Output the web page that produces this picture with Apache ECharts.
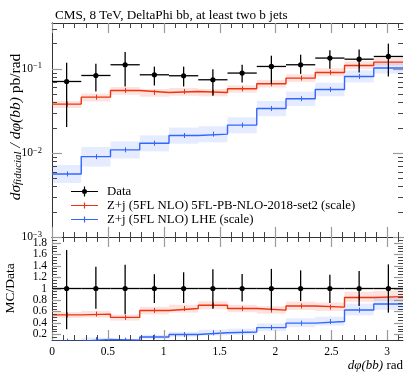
<!DOCTYPE html>
<html><head><meta charset="utf-8">
<script src="https://cdn.jsdelivr.net/npm/echarts@6/dist/echarts.min.js"></script>
<style>html,body{margin:0;padding:0;background:#fff}#c{width:417px;height:376px}</style>
</head><body><div id="c"></div>
<script>
// ---- data ----
const binEdges = [0, 0.2618, 0.5236, 0.7854, 1.0472, 1.3090, 1.5708, 1.8326, 2.0944, 2.3562, 2.6180, 2.8798, 3.1416];
const dataVal = [0.0706, 0.0832, 0.1116, 0.0848, 0.0826, 0.0740, 0.0889, 0.1065, 0.1116, 0.1340, 0.1300, 0.1400];
const dataHi  = [0.1180, 0.1150, 0.1580, 0.1060, 0.1060, 0.0990, 0.1116, 0.1430, 0.1470, 0.1660, 0.1700, 0.1990];
const dataLo  = [0.0203, 0.0537, 0.0616, 0.0633, 0.0616, 0.0477, 0.0687, 0.0660, 0.0870, 0.1000, 0.0904, 0.0810];
const redVal  = [0.0380, 0.0460, 0.0552, 0.0523, 0.0537, 0.0523, 0.0578, 0.0663, 0.0775, 0.0904, 0.1095, 0.1200];
const redUp   = [0.09, 0.10, 0.10, 0.10, 0.10, 0.10, 0.10, 0.11, 0.11, 0.12, 0.12, 0.12];
const redDn   = [0.10, 0.11, 0.11, 0.11, 0.11, 0.10, 0.10, 0.10, 0.10, 0.10, 0.09, 0.09];
const blueVal = [0.00562, 0.00903, 0.01086, 0.01303, 0.0161, 0.0167, 0.0214, 0.0337, 0.0440, 0.0568, 0.0810, 0.1020];
const blueUp  = [0.28, 0.30, 0.26, 0.24, 0.24, 0.24, 0.24, 0.23, 0.22, 0.20, 0.18, 0.16];
const blueDn  = [0.22, 0.24, 0.21, 0.20, 0.20, 0.20, 0.20, 0.19, 0.18, 0.17, 0.15, 0.14];
const xMajorTicks = [0, 0.5, 1, 1.5, 2, 2.5, 3];
const xMinorTicks = [0.1,0.2,0.3,0.4,0.6,0.7,0.8,0.9,1.1,1.2,1.3,1.4,1.6,1.7,1.8,1.9,2.1,2.2,2.3,2.4,2.6,2.7,2.8,2.9,3.1];
const logMajorTicks = [0.001, 0.01, 0.1];
const logMinorTicks = [0.002,0.003,0.004,0.005,0.006,0.007,0.008,0.009,0.02,0.03,0.04,0.05,0.06,0.07,0.08,0.09,0.2,0.3];
const ratioMajorTicks = [0.2,0.4,0.6,0.8,1.0,1.2,1.4,1.6,1.8];
const ratioMinorTicks = [0.15,0.25,0.3,0.35,0.45,0.5,0.55,0.65,0.7,0.75,0.85,0.9,0.95,1.05,1.1,1.15,1.25,1.3,1.35,1.45,1.5,1.55,1.65,1.7,1.75,1.85];

const titleText = 'CMS, 8 TeV, DeltaPhi bb, at least two b jets';
const nameData = 'Data';
const nameRed = 'Z+j (5FL NLO) 5FL-PB-NLO-2018-set2 (scale)';
const nameBlue = 'Z+j (5FL NLO) LHE (scale)';

// ---- styles ----
const FONT = 'Liberation Serif';
const RED = '#EE3311', BLUE = '#3366FF';
const RED_BAND = 'rgba(238,51,17,0.14)', BLUE_BAND = 'rgba(51,102,255,0.12)';
const nb = dataVal.length;
const centers = [];
for (let i = 0; i < nb; i++) centers.push((binEdges[i] + binEdges[i + 1]) / 2);

function stepData(vals) {
  const d = [];
  for (let i = 0; i < vals.length; i++) d.push([binEdges[i], vals[i]]);
  d.push([binEdges[vals.length], vals[vals.length - 1]]);
  return d;
}
function bandData(vals, up, dn, denom) {
  return vals.map((v, i) => { const q = denom ? denom[i] : 1; return [binEdges[i], binEdges[i + 1], v * (1 - dn[i]) / q, v * (1 + up[i]) / q]; });
}
function bandSeries(xi, yi, data, fill) {
  return { type: 'custom', xAxisIndex: xi, yAxisIndex: yi, silent: true, clip: true, z: 1, data: data,
    encode: { x: [0, 1], y: [2, 3] },
    renderItem(params, api) {
      const p0 = api.coord([api.value(0), api.value(3)]);
      const p1 = api.coord([api.value(1), api.value(2)]);
      return { type: 'rect', shape: { x: p0[0], y: p0[1], width: p1[0] - p0[0], height: p1[1] - p0[1] }, style: { fill: fill } };
    } };
}
function stepSeries(name, xi, yi, vals, color) {
  return { type: 'line', name: name, xAxisIndex: xi, yAxisIndex: yi, step: 'end', data: stepData(vals), symbol: 'none',
    z: 3, clip: true, lineStyle: { color: color, width: 1.4 }, itemStyle: { color: color } };
}
function mcTickSeries(xi, yi, vals, color) {
  return { type: 'custom', xAxisIndex: xi, yAxisIndex: yi, silent: true, clip: true, z: 3,
    data: vals.map((v, i) => [centers[i], v]), encode: { x: 0, y: 1 },
    renderItem(params, api) {
      const p = api.coord([api.value(0), api.value(1)]);
      const x = Math.round(p[0]) + 0.5;
      return { type: 'line', shape: { x1: x, y1: p[1] - 2.5, x2: x, y2: p[1] + 2.5 }, style: { stroke: color, lineWidth: 1 } };
    } };
}
function dataSeries(name, xi, yi, vals, lo, hi) {
  return { type: 'custom', name: name, xAxisIndex: xi, yAxisIndex: yi, clip: true, z: 5,
    itemStyle: { color: '#000' },
    data: vals.map((v, i) => [binEdges[i], binEdges[i + 1], centers[i], v, lo[i], hi[i]]),
    encode: { x: [0, 1, 2], y: [3, 4, 5] },
    renderItem(params, api) {
      const a = api.coord([api.value(0), api.value(3)]);
      const b = api.coord([api.value(1), api.value(3)]);
      const c = api.coord([api.value(2), api.value(3)]);
      const l = api.coord([api.value(2), api.value(4)]);
      const h = api.coord([api.value(2), api.value(5)]);
      const st = { stroke: '#000', lineWidth: 1.3 };
      return { type: 'group', children: [
        { type: 'line', shape: { x1: a[0], y1: a[1], x2: b[0], y2: b[1] }, style: st },
        { type: 'line', shape: { x1: c[0], y1: l[1], x2: c[0], y2: h[1] }, style: st },
        { type: 'circle', shape: { cx: c[0], cy: c[1], r: 2.6 }, style: { fill: '#000' } }
      ] };
    } };
}
function frameTicks(xi, yi, yMajor, yMinor, yRef, yMajLen) {
  return { type: 'custom', xAxisIndex: xi, yAxisIndex: yi, silent: true, clip: false, z: 20,
    data: [[1, yRef]], encode: { x: 0, y: 1 },
    renderItem(params, api) {
      const cs = params.coordSys;
      const L = cs.x, R = cs.x + cs.width, T = cs.y, B = cs.y + cs.height;
      const maj = { stroke: '#9a9a9a', lineWidth: 1.2 }, min = { stroke: '#444', lineWidth: 1 };
      const ch = [];
      const ln = (x1, y1, x2, y2, s) => ch.push({ type: 'line', shape: { x1, y1, x2, y2 }, style: s });
      xMajorTicks.forEach(v => { const x = Math.round(api.coord([v, yRef])[0]) + 0.5; ln(x, B, x, B - 10, maj); ln(x, T, x, T + 10, maj); });
      xMinorTicks.forEach(v => { const x = Math.round(api.coord([v, yRef])[0]) + 0.5; ln(x, B, x, B - 5, min); ln(x, T, x, T + 5, min); });
      yMajor.forEach(v => { const y = Math.round(api.coord([1, v])[1]) + 0.5; ln(L, y, L + yMajLen, y, maj); ln(R, y, R - yMajLen, y, maj); });
      yMinor.forEach(v => { const y = Math.round(api.coord([1, v])[1]) + 0.5; ln(L, y, L + 5, y, min); ln(R, y, R - 5, y, min); });
      return { type: 'group', children: ch };
    } };
}

const ratio = a => a.map((v, i) => v / dataVal[i]);
const axLine = { show: true, lineStyle: { color: '#333', width: 1 } };
const xBase = { type: 'value', min: 0, max: 3.1416, interval: 0.5, axisLine: axLine, axisTick: { show: false }, splitLine: { show: false }, axisLabel: { show: false } };
const onHalf = v => Math.abs(v * 2 - Math.round(v * 2)) < 1e-6;
const logLabel = v => { const l = Math.log10(v), e = Math.round(l); if (Math.abs(l - e) > 1e-6) return ''; return '{b|10}{s|' + (e < 0 ? '\u2212' + (-e) : e) + '}'; };

const dataIcon = 'path://M0,4.4H27V5.6H0Z M12.9,0H14.1V10H12.9Z M16,5A2.5,2.5,0,1,1,11,5A2.5,2.5,0,1,1,16,5Z';
const mcIcon = 'path://M0,0h0.01v0.01h-0.01Z M0,9.99h0.01v0.01h-0.01Z M0,4.4H27V5.6H0Z M12.9,2H14.1V8H12.9Z';

const option = {
  animation: false,
  backgroundColor: '#fff',
  textStyle: { fontFamily: FONT },
  title: { text: titleText, left: 50, top: 4, textStyle: { fontFamily: FONT, fontSize: 13.2, fontWeight: 'normal', color: '#000' } },
  legend: { orient: 'vertical', left: 66, top: 180, itemWidth: 27, itemHeight: 10, itemGap: 1, selectedMode: false,
    textStyle: { fontFamily: FONT, fontSize: 12.8, color: '#000', padding: [0, 0, 0, 4] },
    data: [{ name: nameData, icon: dataIcon, itemStyle: { color: '#000' } }, { name: nameRed, icon: mcIcon, itemStyle: { color: RED } }, { name: nameBlue, icon: mcIcon, itemStyle: { color: BLUE } }] },
  grid: [
    { left: 52, right: 14, top: 23, height: 214, outerBoundsMode: 'none', containLabel: false },
    { left: 52, right: 14, top: 237, height: 103, outerBoundsMode: 'none', containLabel: false }
  ],
  xAxis: [
    Object.assign({}, xBase, { gridIndex: 0, position: 'bottom' }),
    Object.assign({}, xBase, { gridIndex: 0, position: 'top' }),
    Object.assign({}, xBase, { gridIndex: 1, position: 'bottom',
      axisLabel: { show: true, margin: 6, fontFamily: FONT, fontSize: 11.5, color: '#000', formatter: v => onHalf(v) ? String(v) : '' },
      name: '{i|d\u03C6(bb)} rad', nameLocation: 'end', nameGap: 0, nameMoveOverlap: false,
      nameTextStyle: { align: 'right', verticalAlign: 'top', padding: [19, 0, 0, 0], fontFamily: FONT, fontSize: 13, color: '#000',
        rich: { i: { fontFamily: FONT, fontStyle: 'italic', fontSize: 13, color: '#000' } } } }),
    Object.assign({}, xBase, { gridIndex: 1, position: 'top' })
  ],
  yAxis: [
    { type: 'log', logBase: 10, gridIndex: 0, min: 0.001, max: 0.35, position: 'left', axisLine: axLine, axisTick: { show: false }, splitLine: { show: false },
      axisLabel: { margin: 10, formatter: logLabel, color: '#000',
        rich: { b: { fontFamily: FONT, fontSize: 11.5, color: '#000', lineHeight: 14 }, s: { fontFamily: FONT, fontSize: 8.5, color: '#000', verticalAlign: 'top', lineHeight: 9 } } },
      name: '{i|d\u03C3}{sub|fiducial}{i| / d\u03C6(bb)} pb/rad', nameLocation: 'middle', nameGap: 28, nameMoveOverlap: false,
      nameTextStyle: { fontFamily: FONT, fontSize: 15.5, color: '#000', padding: [0, 0, 0, 6],
        rich: { i: { fontFamily: FONT, fontStyle: 'italic', fontSize: 15.5, color: '#000' }, sub: { fontFamily: FONT, fontStyle: 'italic', fontSize: 11, color: '#000', verticalAlign: 'bottom', padding: [6, 0, 0, 0] } } } },
    { type: 'log', logBase: 10, gridIndex: 0, min: 0.001, max: 0.35, position: 'right', axisLine: axLine, axisTick: { show: false }, splitLine: { show: false }, axisLabel: { show: false } },
    { type: 'value', gridIndex: 1, min: 0.1, max: 1.9, interval: 0.1, position: 'left', axisLine: axLine, axisTick: { show: false }, splitLine: { show: false },
      axisLabel: { margin: 5, fontFamily: FONT, fontSize: 11.5, color: '#000',
        formatter: v => { const k = Math.round(v * 5); if (Math.abs(v * 5 - k) > 1e-6 || k < 1 || k > 9) return ''; return k === 5 ? '1' : (k / 5).toFixed(1); } },
      name: 'MC/Data', nameLocation: 'middle', nameGap: 35, nameMoveOverlap: false, nameTextStyle: { fontFamily: FONT, fontSize: 13.5, color: '#000' } },
    { type: 'value', gridIndex: 1, min: 0.1, max: 1.9, interval: 0.1, position: 'right', axisLine: axLine, axisTick: { show: false }, splitLine: { show: false }, axisLabel: { show: false } }
  ],
  series: [
    bandSeries(0, 0, bandData(redVal, redUp, redDn), RED_BAND),
    bandSeries(0, 0, bandData(blueVal, blueUp, blueDn), BLUE_BAND),
    stepSeries(nameRed, 0, 0, redVal, RED),
    stepSeries(nameBlue, 0, 0, blueVal, BLUE),
    mcTickSeries(0, 0, redVal, RED),
    mcTickSeries(0, 0, blueVal, BLUE),
    dataSeries(nameData, 0, 0, dataVal, dataLo, dataHi),
    frameTicks(0, 0, logMajorTicks, logMinorTicks, 0.01, 10),

    bandSeries(2, 2, bandData(redVal, redUp, redDn, dataVal), RED_BAND),
    bandSeries(2, 2, bandData(blueVal, blueUp, blueDn, dataVal), BLUE_BAND),
    stepSeries('ratioRed', 2, 2, ratio(redVal), RED),
    stepSeries('ratioBlue', 2, 2, ratio(blueVal), BLUE),
    mcTickSeries(2, 2, ratio(redVal), RED),
    mcTickSeries(2, 2, ratio(blueVal), BLUE),
    dataSeries('ratioData', 2, 2, dataVal.map(() => 1), ratio(dataLo), ratio(dataHi)),
    frameTicks(2, 2, ratioMajorTicks, ratioMinorTicks, 1, 9)
  ]
};
const chart = echarts.init(document.getElementById('c'), null, { renderer: 'canvas' });
chart.setOption(option);
</script>
</body></html>
